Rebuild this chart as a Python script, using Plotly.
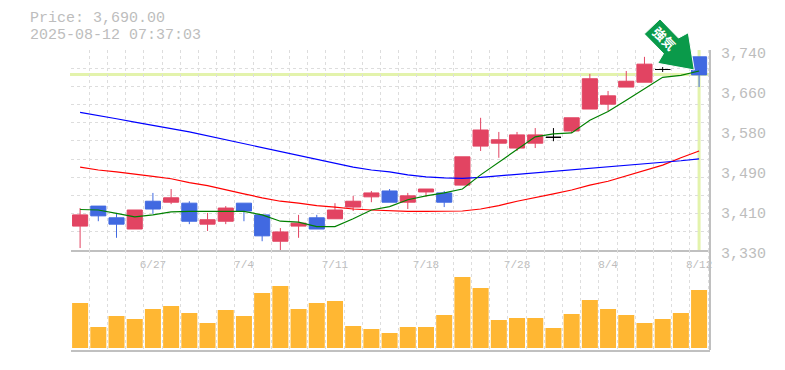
import plotly.graph_objects as go

W, H = 785, 370

# Session positions (one per trading day)
days = list(range(35))
tick_days = [4, 9, 14, 19, 24, 29, 34]
tick_dates = ["6/27", "7/4", "7/11", "7/18", "7/28", "8/4", "8/12"]
price_ticks = [3740, 3660, 3580, 3490, 3410, 3330]
price_tick_pos = [3740, 3658, 3576, 3494, 3412, 3330]
price_tick_text = ["3,740", "3,660", "3,580", "3,490", "3,410", "3,330"]

opens  = [3379,3420,3396,3373,3430,3428,3426,3383,3389,3426,3402,3348,3379,3396,3394,3418,3439,3451,3428,3449,3447,3463,3543,3549,3539,3549,3561,3574,3619,3629,3664,3674,3700,3707,3726]
highs  = [3416,3420,3406,3412,3447,3455,3430,3406,3420,3426,3402,3375,3402,3402,3426,3441,3451,3455,3447,3455,3451,3521,3601,3572,3572,3580,3580,3601,3691,3656,3697,3726,3705,3730,3726]
lows   = [3334,3389,3355,3373,3404,3424,3383,3369,3383,3389,3348,3330,3355,3373,3394,3410,3428,3428,3414,3439,3418,3463,3533,3519,3533,3539,3553,3570,3619,3615,3664,3674,3695,3707,3664]
closes = [3402,3400,3383,3412,3414,3437,3389,3392,3416,3410,3359,3367,3385,3373,3412,3430,3447,3428,3441,3455,3428,3521,3576,3556,3566,3566,3561,3601,3681,3646,3676,3711,3700,3720,3689]
ma_short = [3413,3412,3405,3398,3402,3408,3409,3409,3409,3409,3402,3389,3387,3378,3378,3394,3412,3419,3433,3441,3447,3455,3484,3510,3535,3562,3568,3570,3596,3614,3637,3661,3684,3688,3697]
ma_mid   = [3612,3606,3599,3592,3586,3579,3572,3564,3556,3547,3539,3531,3523,3515,3508,3500,3494,3490,3484,3480,3478,3477,3479,3482,3486,3489,3492,3494,3497,3500,3503,3506,3510,3513,3517]
ma_long  = [3500,3494,3490,3486,3481,3476,3468,3462,3453,3445,3437,3430,3426,3421,3418,3414,3412,3410,3409,3409,3409,3410,3414,3421,3430,3437,3445,3453,3463,3471,3482,3492,3504,3519,3533]
volume   = [45,21,32,29,39,42,35,25,38,32,55,62,39,45,47,22,19,15,21,21,33,71,60,28,30,30,20,34,48,39,33,25,29,35,58]

last_price = 3690
title_lines = ["Price: 3,690.00", "2025-08-12 07:37:03"]
badge_text = "<b>強気</b>"

RED, BLUE, ORANGE = "#E24462", "#4169E1", "#FFB733"
GRID, AXIS, TXT, HILITE = "#DDDDDD", "#C0C0C0", "#BDBDBD", "#E3F3AC"
MONO = "Liberation Mono, Courier New, monospace"


def fx(px):
    return px / W


def fy(py):
    return 1 - py / H


def subset(idx):
    return dict(
        x=[days[i] for i in idx], open=[opens[i] for i in idx], high=[highs[i] for i in idx],
        low=[lows[i] for i in idx], close=[closes[i] for i in idx],
    )


up = [i for i in days if closes[i] > opens[i]]
down = [i for i in days if closes[i] < opens[i]]
flat = [i for i in days if closes[i] == opens[i]]

fig = go.Figure()
for vals, col in ((ma_long, "#FF0000"), (ma_mid, "#0000FF"), (ma_short, "#008000")):
    fig.add_trace(go.Scatter(x=days, y=vals, mode="lines", line=dict(color=col, width=1.2), hoverinfo="skip"))
for idx, col in ((up, RED), (down, BLUE), (flat, "#000000")):
    fig.add_trace(go.Candlestick(
        **subset(idx),
        increasing=dict(line=dict(color=col, width=1), fillcolor=col),
        decreasing=dict(line=dict(color=col, width=1), fillcolor=col),
        whiskerwidth=0, hoverinfo="skip",
    ))
fig.add_trace(go.Bar(x=days, y=volume, marker=dict(color=ORANGE, line=dict(width=0)), width=0.88,
                     xaxis="x2", yaxis="y2", hoverinfo="skip"))
# carrier for the price scale labels
fig.add_trace(go.Scatter(x=[days[0], days[-1]], y=[price_ticks[0], price_ticks[-1]], mode="none",
                         xaxis="x3", yaxis="y3", hoverinfo="skip"))

xrange = [-0.5, 34.6]
xdomain = [fx(71), fx(710)]
grid_x = dict(showgrid=True, griddash="3px,3px", gridcolor=GRID, gridwidth=1, tickmode="linear", tick0=-0.5, dtick=1)

layout_shapes = [
    dict(type="line", xref="paper", yref="y", x0=fx(70), x1=fx(710), y0=last_price, y1=last_price,
         line=dict(color=HILITE, width=3), layer="below"),
    dict(type="line", xref="x", yref="paper", x0=34, x1=34, y0=fy(50), y1=fy(250),
         line=dict(color=HILITE, width=3), layer="below"),
    dict(type="line", xref="paper", yref="paper", x0=fx(710), x1=fx(710), y0=fy(50), y1=fy(350),
         line=dict(color=AXIS, width=2), layer="above"),
    dict(type="path", xref="paper", yref="paper", layer="above",
         path="M %f,%f L %f,%f L %f,%f L %f,%f L %f,%f L %f,%f L %f,%f Z" % (
             fx(644.3), fy(34), fx(660), fy(19), fx(678.5), fy(38), fx(688.3), fy(32.7),
             fx(694.3), fy(70), fx(657.7), fy(63.3), fx(663.5), fy(53.5)),
         fillcolor="#0A9A4A", line=dict(color="#FFFFFF", width=1)),
]

annotations = [
    dict(text=title_lines[0], x=fx(28), y=fy(18.5), xref="paper", yref="paper", xanchor="left", yanchor="middle",
         showarrow=False, font=dict(family=MONO, size=15, color=TXT)),
    dict(text=title_lines[1], x=fx(28), y=fy(35.5), xref="paper", yref="paper", xanchor="left", yanchor="middle",
         showarrow=False, font=dict(family=MONO, size=15, color=TXT)),
    dict(text=badge_text, x=fx(665), y=fy(38), xref="paper", yref="paper", xanchor="center", yanchor="middle",
         showarrow=False, textangle=45, font=dict(family="Noto Sans CJK JP", size=13, color="#FFFFFF")),
]

fig.update_layout(
    width=W, height=H, autosize=False, margin=dict(l=0, r=0, t=0, b=0),
    paper_bgcolor="#FFFFFF", plot_bgcolor="rgba(0,0,0,0)", showlegend=False, boxgap=0.17, boxgroupgap=0,
    bargap=0.12, hovermode=False, shapes=layout_shapes, annotations=annotations,
    xaxis=dict(domain=xdomain, range=xrange, anchor="y", rangeslider=dict(visible=False), automargin=False,
               tickmode="array", tickvals=tick_days, ticktext=tick_dates, ticks="", showgrid=False,
               zeroline=False, showline=True, linecolor=AXIS, linewidth=2, ticklabelstandoff=3,
               tickfont=dict(family=MONO, size=11, color=TXT), minor=grid_x),
    xaxis2=dict(domain=xdomain, range=xrange, anchor="y2", tickmode="array", tickvals=tick_days, showticklabels=False,
                automargin=False, ticks="", showgrid=False, zeroline=False, showline=True, linecolor=AXIS, linewidth=2,
                minor=grid_x),
    xaxis3=dict(domain=xdomain, range=xrange, anchor="y3", visible=False, automargin=False),
    yaxis=dict(domain=[fy(250), fy(50)], range=[3330, 3740], anchor="x", showline=False, zeroline=False,
               automargin=False, showgrid=False, showticklabels=False, ticks="", tickmode="array",
               tickvals=price_tick_pos,
               minor=dict(showgrid=True, griddash="3px,3px", gridcolor=GRID, gridwidth=1,
                          tickmode="linear", tick0=3330, dtick=410 / 11)),
    yaxis2=dict(domain=[fy(350), fy(250)], range=[-2, 98], anchor="x2", showline=False, zeroline=False,
                automargin=False, showgrid=False, showticklabels=False, ticks=""),
    yaxis3=dict(domain=[fy(260), fy(50)], range=[3746.15 - 2.05 * 210, 3746.15], anchor="x3", side="right",
                automargin=False, showline=False, zeroline=False, showgrid=False, ticks="outside", ticklen=7,
                tickcolor="rgba(0,0,0,0)", tickmode="array", tickvals=price_tick_pos, ticktext=price_tick_text,
                tickfont=dict(family=MONO, size=15, color=TXT)),
)

fig.write_html("out.html", post_script="document.body.style.margin='0';", config=dict(displayModeBar=False))
